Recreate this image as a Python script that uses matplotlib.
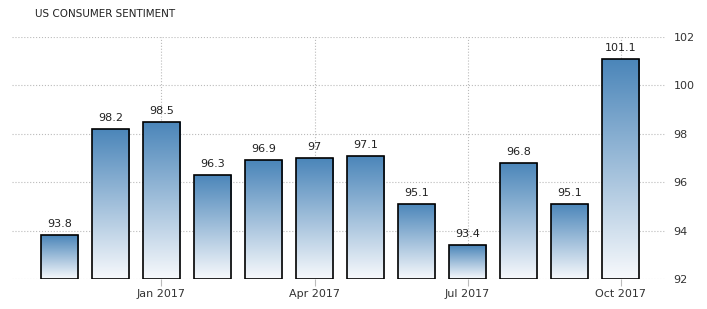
import numpy as np
import matplotlib.pyplot as plt
from matplotlib.colors import LinearSegmentedColormap

months = ['Nov 2016', 'Dec 2016', 'Jan 2017', 'Feb 2017', 'Mar 2017', 'Apr 2017',
          'May 2017', 'Jun 2017', 'Jul 2017', 'Aug 2017', 'Sep 2017', 'Oct 2017']
values = [93.8, 98.2, 98.5, 96.3, 96.9, 97.0, 97.1, 95.1, 93.4, 96.8, 95.1, 101.1]
value_labels = ['93.8', '98.2', '98.5', '96.3', '96.9', '97', '97.1', '95.1', '93.4', '96.8', '95.1', '101.1']
tick_idx = [2, 5, 8, 11]
tick_labels = ['Jan 2017', 'Apr 2017', 'Jul 2017', 'Oct 2017']
yticks = [92, 94, 96, 98, 100, 102]

fig = plt.figure(figsize=(7.07, 3.09), dpi=100)
ax = fig.add_axes([0.017, 0.097, 0.9236, 0.783])
ax.set_xlim(-0.93, 11.87)
ax.set_ylim(92, 102)

cmap = LinearSegmentedColormap.from_list('tegrad', ['#f7f9fc', '#4a85b9'])
grad = np.linspace(0, 1, 256).reshape(-1, 1)
width = 0.74
x = np.arange(len(values))
bars = ax.bar(x, [v - 92 for v in values], bottom=92, width=width,
              facecolor='none', edgecolor='black', linewidth=1.2, zorder=3)
for b, v, lab in zip(bars, values, value_labels):
    x0 = b.get_x()
    im = ax.imshow(grad, cmap=cmap, origin='lower', aspect='auto',
                   extent=[x0, x0 + width, 92, v], zorder=2)
    im.set_clip_path(b)
    ax.text(b.get_x() + width / 2, v + 0.25, lab, ha='center', va='bottom',
            fontsize=8, color='#222222')
ax.set_xlim(-0.93, 11.87)
ax.set_ylim(92, 102)

ax.set_yticks(yticks)
ax.yaxis.tick_right()
ax.tick_params(axis='y', length=0, labelsize=8, colors='#333333', pad=6)
ax.set_xticks(tick_idx)
ax.set_xticklabels(tick_labels)
ax.tick_params(axis='x', length=5, color='#bbbbbb', labelsize=8, colors='#333333', pad=2)
ax.grid(True, linestyle=':', color='#bbbbbb', linewidth=0.8, zorder=0)
ax.set_axisbelow(True)
for s in ax.spines.values():
    s.set_visible(False)

fig.text(35 / 707, 1 - 14 / 309, 'US CONSUMER SENTIMENT', fontsize=7.5,
         color='#222222', va='center', ha='left')

fig.savefig('out.png', dpi=100)
